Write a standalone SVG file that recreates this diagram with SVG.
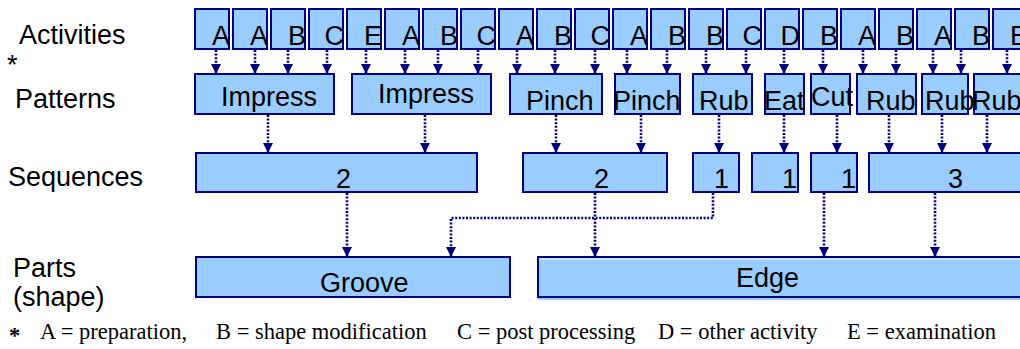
<svg xmlns="http://www.w3.org/2000/svg" width="1020" height="349" viewBox="0 0 1020 349">
<style>
.box{fill:#99CCFF;stroke:#000080;stroke-width:2}
.t{font-family:"Liberation Sans",Arial,sans-serif;font-size:27px;fill:#000}
.a{text-anchor:end}
.c{fill:none;stroke:#000080;stroke-width:2.6;stroke-dasharray:2 1.6}
.f{font-family:"Liberation Serif","Times New Roman",serif;font-size:22.5px;fill:#000}
</style>
<defs>
<marker id="ah" viewBox="0 0 10 10" refX="10" refY="5" markerWidth="10" markerHeight="10" markerUnits="userSpaceOnUse" orient="auto">
<path d="M0,0 L10,5 L0,10 z" fill="#000080"/>
</marker>
</defs>
<rect width="1020" height="349" fill="#fff"/>

<g id="labels">
<text class="t" x="19" y="44">Activities</text>
<text class="t" x="7" y="74">*</text>
<text class="t" x="15" y="108">Patterns</text>
<text class="t" x="8" y="186">Sequences</text>
<text class="t" x="13" y="277">Parts</text>
<text class="t" x="13" y="306">(shape)</text>
</g>

<g id="activities">
<g id="act1"><rect class="box" x="195" y="9" width="34" height="40"/><text class="t a" x="230" y="45">A</text></g>
<g id="act2"><rect class="box" x="233" y="9" width="34" height="40"/><text class="t a" x="268" y="45">A</text></g>
<g id="act3"><rect class="box" x="271" y="9" width="34" height="40"/><text class="t a" x="306" y="45">B</text></g>
<g id="act4"><rect class="box" x="309" y="9" width="34" height="40"/><text class="t a" x="344" y="45">C</text></g>
<g id="act5"><rect class="box" x="347" y="9" width="34" height="40"/><text class="t a" x="382" y="45">E</text></g>
<g id="act6"><rect class="box" x="385" y="9" width="34" height="40"/><text class="t a" x="420" y="45">A</text></g>
<g id="act7"><rect class="box" x="423" y="9" width="34" height="40"/><text class="t a" x="458" y="45">B</text></g>
<g id="act8"><rect class="box" x="461" y="9" width="34" height="40"/><text class="t a" x="496" y="45">C</text></g>
<g id="act9"><rect class="box" x="499" y="9" width="34" height="40"/><text class="t a" x="534" y="45">A</text></g>
<g id="act10"><rect class="box" x="537" y="9" width="34" height="40"/><text class="t a" x="572" y="45">B</text></g>
<g id="act11"><rect class="box" x="575" y="9" width="34" height="40"/><text class="t a" x="610" y="45">C</text></g>
<g id="act12"><rect class="box" x="613" y="9" width="34" height="40"/><text class="t a" x="648" y="45">A</text></g>
<g id="act13"><rect class="box" x="651" y="9" width="34" height="40"/><text class="t a" x="686" y="45">B</text></g>
<g id="act14"><rect class="box" x="689" y="9" width="34" height="40"/><text class="t a" x="724" y="45">B</text></g>
<g id="act15"><rect class="box" x="727" y="9" width="34" height="40"/><text class="t a" x="762" y="45">C</text></g>
<g id="act16"><rect class="box" x="765" y="9" width="34" height="40"/><text class="t a" x="800" y="45">D</text></g>
<g id="act17"><rect class="box" x="803" y="9" width="34" height="40"/><text class="t a" x="838" y="45">B</text></g>
<g id="act18"><rect class="box" x="841" y="9" width="34" height="40"/><text class="t a" x="876" y="45">A</text></g>
<g id="act19"><rect class="box" x="879" y="9" width="34" height="40"/><text class="t a" x="914" y="45">B</text></g>
<g id="act20"><rect class="box" x="917" y="9" width="34" height="40"/><text class="t a" x="952" y="45">A</text></g>
<g id="act21"><rect class="box" x="955" y="9" width="34" height="40"/><text class="t a" x="990" y="45">B</text></g>
<g id="act22"><rect class="box" x="993" y="9" width="34" height="40"/><text class="t a" x="1028" y="45">B</text></g>
</g>

<g id="patterns">
<g id="pat1"><rect class="box" x="195" y="74" width="139" height="40"/><text class="t" x="221" y="106">Impress</text></g>
<g id="pat2"><rect class="box" x="352" y="74" width="139" height="40"/><text class="t" x="378" y="103">Impress</text></g>
<g id="pat3"><rect class="box" x="510" y="74" width="92" height="40"/><text class="t" x="526" y="110">Pinch</text></g>
<g id="pat4"><rect class="box" x="615" y="74" width="65" height="40"/><text class="t" x="613" y="110">Pinch</text></g>
<g id="pat5"><rect class="box" x="693" y="74" width="59" height="40"/><text class="t" x="699" y="110">Rub</text></g>
<g id="pat6"><rect class="box" x="765" y="74" width="39" height="40"/><text class="t" x="764" y="110">Eat</text></g>
<g id="pat7"><rect class="box" x="811" y="74" width="39" height="40"/><text class="t" x="811" y="106">Cut</text></g>
<g id="pat8"><rect class="box" x="857" y="74" width="59" height="40"/><text class="t" x="866" y="110">Rub</text></g>
<g id="pat9"><rect class="box" x="922" y="74" width="46" height="40"/><text class="t" x="925" y="110">Rub</text></g>
<g id="pat10"><rect class="box" x="974" y="74" width="60" height="40"/><text class="t" x="972" y="110">Rub</text></g>
</g>

<g id="sequences">
<g id="seq1"><rect class="box" x="196" y="153" width="281" height="39"/><text class="t" x="336" y="188">2</text></g>
<g id="seq2"><rect class="box" x="523" y="153" width="144" height="39"/><text class="t" x="594" y="188">2</text></g>
<g id="seq3"><rect class="box" x="693" y="153" width="46" height="39"/><text class="t" x="714" y="188">1</text></g>
<g id="seq4"><rect class="box" x="752" y="153" width="46" height="39"/><text class="t" x="782" y="188">1</text></g>
<g id="seq5"><rect class="box" x="811" y="153" width="46" height="39"/><text class="t" x="841" y="188">1</text></g>
<g id="seq6"><rect class="box" x="869" y="153" width="170" height="39"/><text class="t" x="948" y="188">3</text></g>
</g>

<g id="parts">
<g id="groove"><rect class="box" x="196" y="257" width="314" height="40"/><text class="t" x="320" y="292">Groove</text></g>
<g id="edge"><rect x="538" y="297" width="490" height="3" fill="#99CCFF"/><rect class="box" x="538" y="257" width="490" height="40"/><line x1="539" y1="259" x2="1020" y2="259" stroke="#fff" stroke-width="1"/><text class="t" x="736" y="287">Edge</text></g>
</g>

<g id="connectors" marker-end="url(#ah)">
<line class="c" x1="216" y1="50" x2="216" y2="74" marker-end="url(#ah)"/>
<line class="c" x1="255" y1="50" x2="255" y2="74" marker-end="url(#ah)"/>
<line class="c" x1="288" y1="50" x2="288" y2="74" marker-end="url(#ah)"/>
<line class="c" x1="327" y1="50" x2="327" y2="74" marker-end="url(#ah)"/>
<line class="c" x1="366" y1="50" x2="366" y2="74" marker-end="url(#ah)"/>
<line class="c" x1="405" y1="50" x2="405" y2="74" marker-end="url(#ah)"/>
<line class="c" x1="438" y1="50" x2="438" y2="74" marker-end="url(#ah)"/>
<line class="c" x1="478" y1="50" x2="478" y2="74" marker-end="url(#ah)"/>
<line class="c" x1="517" y1="50" x2="517" y2="74" marker-end="url(#ah)"/>
<line class="c" x1="555" y1="50" x2="555" y2="74" marker-end="url(#ah)"/>
<line class="c" x1="595" y1="50" x2="595" y2="74" marker-end="url(#ah)"/>
<line class="c" x1="627" y1="50" x2="627" y2="74" marker-end="url(#ah)"/>
<line class="c" x1="667" y1="50" x2="667" y2="74" marker-end="url(#ah)"/>
<line class="c" x1="706" y1="50" x2="706" y2="74" marker-end="url(#ah)"/>
<line class="c" x1="746" y1="50" x2="746" y2="74" marker-end="url(#ah)"/>
<line class="c" x1="784" y1="50" x2="784" y2="74" marker-end="url(#ah)"/>
<line class="c" x1="823" y1="50" x2="823" y2="74" marker-end="url(#ah)"/>
<line class="c" x1="863" y1="50" x2="863" y2="74" marker-end="url(#ah)"/>
<line class="c" x1="896" y1="50" x2="896" y2="74" marker-end="url(#ah)"/>
<line class="c" x1="933" y1="50" x2="933" y2="74" marker-end="url(#ah)"/>
<line class="c" x1="961" y1="50" x2="961" y2="74" marker-end="url(#ah)"/>
<line class="c" x1="1007" y1="50" x2="1007" y2="74" marker-end="url(#ah)"/>

<line class="c" x1="268" y1="115" x2="268" y2="153" marker-end="url(#ah)"/>
<line class="c" x1="425" y1="115" x2="425" y2="153" marker-end="url(#ah)"/>
<line class="c" x1="556" y1="115" x2="556" y2="153" marker-end="url(#ah)"/>
<line class="c" x1="641" y1="115" x2="641" y2="153" marker-end="url(#ah)"/>
<line class="c" x1="719" y1="115" x2="719" y2="153" marker-end="url(#ah)"/>
<line class="c" x1="784" y1="115" x2="784" y2="153" marker-end="url(#ah)"/>
<line class="c" x1="837" y1="115" x2="837" y2="153" marker-end="url(#ah)"/>
<line class="c" x1="889" y1="115" x2="889" y2="153" marker-end="url(#ah)"/>
<line class="c" x1="942" y1="115" x2="942" y2="153" marker-end="url(#ah)"/>
<line class="c" x1="987" y1="115" x2="987" y2="153" marker-end="url(#ah)"/>

<line class="c" x1="347" y1="193" x2="347" y2="257" marker-end="url(#ah)"/>
<line class="c" x1="595" y1="193" x2="595" y2="257" marker-end="url(#ah)"/>
<line class="c" x1="824" y1="193" x2="824" y2="257" marker-end="url(#ah)"/>
<line class="c" x1="935" y1="193" x2="935" y2="257" marker-end="url(#ah)"/>
<path class="c" d="M713,193 V218 H451 V257" marker-end="url(#ah)"/>
</g>

<g id="legend">
<text class="f" x="9" y="343" font-weight="bold">*</text>
<text class="f" x="40" y="339">A = preparation,</text>
<text class="f" x="216" y="339">B = shape modification</text>
<text class="f" x="457" y="339">C = post processing</text>
<text class="f" x="658" y="339">D = other activity</text>
<text class="f" x="847" y="339">E = examination</text>
</g>
</svg>
